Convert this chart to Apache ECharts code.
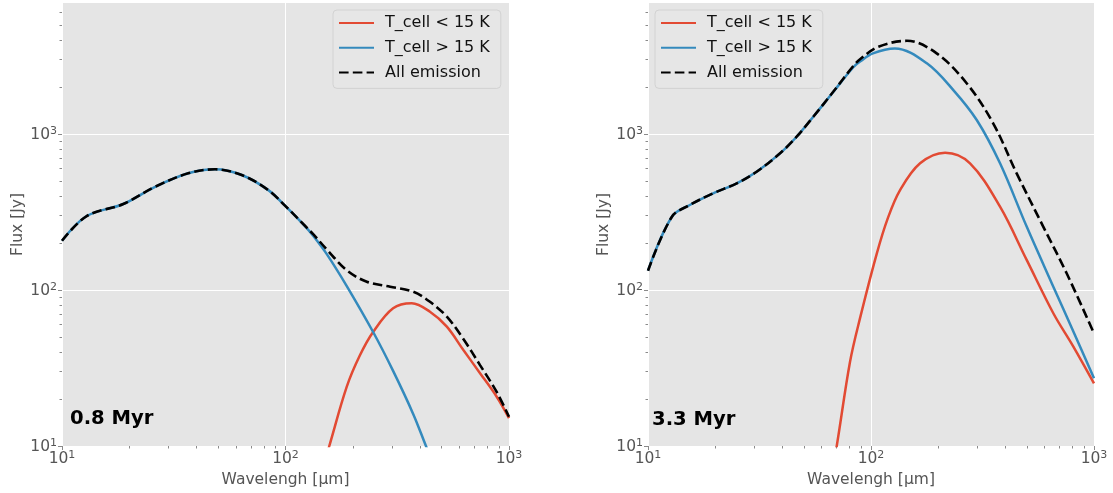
<!DOCTYPE html>
<html>
<head>
<meta charset="utf-8">
<script src="https://cdn.jsdelivr.net/npm/echarts@6/dist/echarts.min.js"></script>
<style>
  html, body { margin: 0; padding: 0; background: #ffffff; }
  #chart { width: 1113px; height: 493px; }
</style>
</head>
<body>
<div id="chart"></div>
<script>
// ---- SED components, wavelength in μm, flux in Jy ----
// 0.8 Myr
const youngColdLambda = [150, 157, 188, 215, 247, 303, 367, 443, 527, 625, 742, 881, 1000];
const youngColdFlux   = [8.0, 10, 24, 38, 54, 76.4, 82.2, 72.6, 58.2, 41.2, 29.3, 20.7, 15.1];
const youngWarmLambda = [10, 12.9, 18.8, 26.1, 36.7, 48.4, 63.7, 83.8, 100, 121, 133, 153, 188, 247, 303, 373, 425, 458];
const youngWarmFlux   = [207, 298, 356, 459, 560, 594, 546, 437, 345, 261, 223, 170, 106, 53.6, 30.3, 16.0, 10, 7.7];
const youngAllLambda  = [10, 12.9, 18.8, 26.1, 36.7, 48.4, 63.7, 83.8, 100, 121, 133, 153, 188, 231, 294, 373, 443, 527, 625, 742, 881, 1000];
const youngAllFlux    = [207, 298, 356, 459, 560, 594, 546, 437, 345, 262, 228, 182, 134, 113, 105, 97.5, 84, 67.5, 48.5, 33.0, 22.2, 15.4];

// 3.3 Myr
const oldColdLambda = [66.9, 70.2, 80.5, 89.3, 106, 119, 135, 166, 215, 278, 379, 499, 657, 808, 1000];
const oldColdFlux   = [7.0, 10, 34.6, 66, 170, 289, 437, 649, 759, 649, 342, 156, 71, 43.4, 25.2];
const oldWarmLambda = [10, 12.8, 15.4, 19.6, 25, 30.7, 39.1, 46.4, 55.1, 67.7, 83.3, 89.3, 102, 128, 178, 234, 298, 379, 499, 657, 808, 1000];
const oldWarmFlux   = [133, 295, 351, 417, 483, 573, 752, 961, 1290, 1860, 2680, 2915, 3290, 3540, 2840, 1914, 1230, 649, 255, 105, 54.2, 27.2];
const oldAllLambda  = [10, 12.8, 15.4, 19.6, 25, 30.7, 39.1, 46.4, 55.1, 67.7, 83.3, 89.3, 108, 145, 197, 269, 353, 450, 592, 754, 1000];
const oldAllFlux    = [133, 295, 351, 417, 483, 573, 752, 961, 1290, 1866, 2730, 3020, 3630, 3960, 3290, 2110, 1172, 560, 255, 128, 52.7];

const seriesNames = ['T_cell < 15 K', 'T_cell > 15 K', 'All emission'];
const panelLabels = ['0.8 Myr', '3.3 Myr'];
const xTitle = 'Wavelengh [μm]';
const yTitle = 'Flux [Jy]';
const majorTicks = [10, 100, 1000];

const FONT = '"DejaVu Sans", "Liberation Sans", sans-serif';
const RED = '#E24A33', BLUE = '#348ABD', BLACK = '#000000';
const X_MIN = 10, X_MAX = 1000, Y_MIN = 10, Y_MAX = 6920;

// minor log ticks: 2..9 × each decade inside [lo, hi]
function minorLogTicks(lo, hi) {
  const out = [];
  for (let d = 1; d <= 1e4; d *= 10) {
    for (let m = 2; m <= 9; m++) {
      const v = m * d;
      if (v > lo && v < hi) out.push(v);
    }
  }
  return out;
}

function pairs(lam, flux) { return lam.map((l, i) => [l, flux[i]]); }

function powLabel(v) {
  return '{b|10}{e|' + Math.round(Math.log10(v)) + '}';
}
const labelRich = {
  b: { fontSize: 15.5, lineHeight: 16, color: '#555555', fontFamily: FONT, padding: [2, 0, 0, 0] },
  e: { fontSize: 11, lineHeight: 11, color: '#555555', fontFamily: FONT, verticalAlign: 'top' }
};
const tickLine = { color: '#8a8a8a', width: 1 };

const grids = [
  { left: 62, top: 3, width: 447, height: 443 },
  { left: 648, top: 3, width: 446, height: 443 }
];

// main axes: decades with labels and white grid lines
function makeXAxis(gi) {
  return {
    type: 'log', gridIndex: gi, min: X_MIN, max: X_MAX, logBase: 10, position: 'bottom',
    name: xTitle, nameLocation: 'middle', nameGap: 25,
    nameTextStyle: { fontSize: 15.5, color: '#555555', fontFamily: FONT },
    axisLine: { show: false },
    axisTick: { show: true, customValues: majorTicks, length: 4, lineStyle: tickLine },
    axisLabel: { customValues: majorTicks, formatter: powLabel, rich: labelRich, margin: 4, showMinLabel: true, showMaxLabel: true, hideOverlap: false },
    splitLine: { show: true, lineStyle: { color: '#ffffff', width: 1 } }
  };
}
function makeYAxis(gi) {
  return {
    type: 'log', gridIndex: gi, min: Y_MIN, max: Y_MAX, logBase: 10, position: 'left',
    name: yTitle, nameLocation: 'middle', nameGap: 36,
    nameTextStyle: { fontSize: 15.5, color: '#555555', fontFamily: FONT },
    axisLine: { show: false },
    axisTick: { show: true, customValues: majorTicks, length: 4, lineStyle: tickLine },
    axisLabel: { customValues: majorTicks, formatter: powLabel, rich: labelRich, margin: 5, showMinLabel: true, hideOverlap: false },
    splitLine: { show: true, lineStyle: { color: '#ffffff', width: 1 } }
  };
}
// companion axes carrying only the short minor ticks
function minorXAxis(gi) {
  return {
    type: 'log', gridIndex: gi, min: X_MIN, max: X_MAX, logBase: 10, position: 'bottom',
    axisLine: { show: false }, axisLabel: { show: false }, splitLine: { show: false },
    axisTick: { show: true, customValues: minorLogTicks(X_MIN, X_MAX), length: 2.5, lineStyle: tickLine }
  };
}
function minorYAxis(gi) {
  return {
    type: 'log', gridIndex: gi, min: Y_MIN, max: Y_MAX, logBase: 10, position: 'left',
    axisLine: { show: false }, axisLabel: { show: false }, splitLine: { show: false },
    axisTick: { show: true, customValues: minorLogTicks(Y_MIN, Y_MAX), length: 2.5, lineStyle: tickLine }
  };
}

function lineSeries(name, gi, data, color, dashed, z) {
  return {
    type: 'line', name: name, xAxisIndex: gi, yAxisIndex: gi, data: data,
    symbol: 'none', smooth: 0.35, clip: true, z: z,
    itemStyle: { color: color },
    lineStyle: dashed
      ? { color: color, width: 2.6, type: [9.6, 4.2] }
      : { color: color, width: 2.5 },
    emphasis: { disabled: true }
  };
}

function legendAt(left) {
  return {
    data: seriesNames, orient: 'vertical', left: left, top: 10,
    itemWidth: 35, itemHeight: 14, itemGap: 6.7,
    padding: [4, 11, 7, 5],
    backgroundColor: '#e6e6e6', borderColor: '#d2d2d2', borderWidth: 1, borderRadius: 4,
    itemStyle: { opacity: 0 },
    textStyle: { fontSize: 16, lineHeight: 18, color: '#111111', fontFamily: FONT, padding: [0, 0, 0, 6] },
    selectedMode: false
  };
}

const chart = echarts.init(document.getElementById('chart'), null, { renderer: 'canvas' });
chart.setOption({
  animation: false,
  backgroundColor: '#ffffff',
  grid: grids.map(g => Object.assign({ show: true, backgroundColor: '#E5E5E5', borderWidth: 0 }, g)),
  xAxis: [makeXAxis(0), makeXAxis(1), minorXAxis(0), minorXAxis(1)],
  yAxis: [makeYAxis(0), makeYAxis(1), minorYAxis(0), minorYAxis(1)],
  legend: [legendAt(333), legendAt(655)],
  series: [
    lineSeries(seriesNames[0], 0, pairs(youngColdLambda, youngColdFlux), RED, false, 2),
    lineSeries(seriesNames[1], 0, pairs(youngWarmLambda, youngWarmFlux), BLUE, false, 3),
    lineSeries(seriesNames[2], 0, pairs(youngAllLambda, youngAllFlux), BLACK, true, 4),
    lineSeries(seriesNames[0], 1, pairs(oldColdLambda, oldColdFlux), RED, false, 2),
    lineSeries(seriesNames[1], 1, pairs(oldWarmLambda, oldWarmFlux), BLUE, false, 3),
    lineSeries(seriesNames[2], 1, pairs(oldAllLambda, oldAllFlux), BLACK, true, 4)
  ],
  graphic: [
    { type: 'text', left: 70, top: 409, z: 10,
      style: { text: panelLabels[0], fontSize: 19.6, fontWeight: 'bold', fontFamily: FONT, fill: '#000000' } },
    { type: 'text', left: 652, top: 410, z: 10,
      style: { text: panelLabels[1], fontSize: 19.6, fontWeight: 'bold', fontFamily: FONT, fill: '#000000' } }
  ]
});
</script>
</body>
</html>
